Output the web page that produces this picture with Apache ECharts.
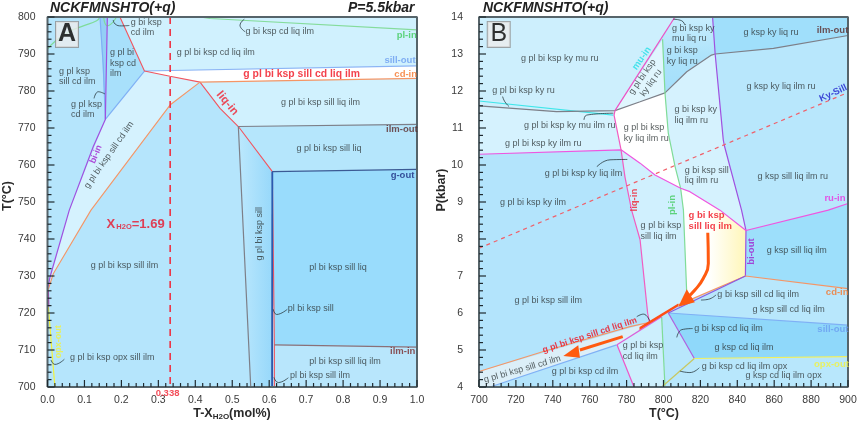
<!DOCTYPE html>
<html>
<head>
<meta charset="utf-8">
<style>html,body{margin:0;padding:0;background:#fff}#main{width:858px;height:422px}</style>
<script src="https://cdn.jsdelivr.net/npm/echarts@6/dist/echarts.min.js"></script>
</head>
<body>
<div id="main"></div>
<script>
// panel A, T-X section : [X, T]
var aRegions = {
  base: [[0,800],[1,800],[1,700],[0,700]],
  strip: [[0.142,800],[0.162,800],[0.1565,772.3]],
  cdIlm: [[0.162,800],[0.196,800],[0.2624,785.4],[0.1565,772.3]],
  cdLiq: [[0.196,800],[1,800],[1,786.8],[0.2624,785.4]],
  peak: [[0.2624,785.4],[1,786.8],[1,783.4],[0.4127,782.4],[0.3315,784]],
  biBand: [[0.2624,785.4],[0.3315,784],[0.4127,782.4],[0.3315,776.2],[0.1177,747.8],[0.016,730.7],[0.002,726.3],[0.007,729.8],[0.059,747.8],[0.1565,772.3]],
  sillLiqIlm: [[0.4127,782.4],[1,783.4],[1,771],[0.5165,770.4],[0.467,775.3]],
  sillLiq: [[0.5165,770.4],[1,771],[1,758.8],[0.6086,758.2]],
  gSill: [[0.5165,770.4],[0.6086,758.2],[0.608,700],[0.55,700]],
  noG: [[0.6086,758.2],[1,758.8],[1,710.8],[0.614,711.4]],
  noGIlm: [[0.614,711.4],[1,710.8],[1,700],[0.614,700]]
};
var aLines = {
  plIn1: [[0,791.3],[0.02,793.4],[0.06,796.1],[0.097,797.6],[0.133,799],[0.142,800]],
  plIn2: [[0.152,800],[0.162,797.6],[0.187,800]],
  plIn3: [[0.4127,800],[0.44,799.6],[1,796.5]],
  sillOut1: [[0.142,800],[0.151,786.7],[0.1565,772.3]],
  sillOut2: [[0.1565,772.3],[0.2624,785.4]],
  sillOut3: [[0.2624,785.4],[1,786.8]],
  biIn: [[0.162,800],[0.1565,772.3],[0.124,765],[0.059,747.8],[0.007,729.8],[0,726.3]],
  liqIn: [[0.196,800],[0.2624,785.4],[0.3315,784],[0.4127,782.4],[0.467,775.3],[0.5165,770.4],[0.6086,758.2],[0.614,711.4],[0.614,700]],
  cdIn: [[1,783.4],[0.4127,782.4],[0.3315,776.2],[0.1177,747.8],[0.016,730.7],[0.002,726.3]],
  ilmOut: [[0.55,700],[0.5165,770.4],[1,771]],
  gOut: [[0.608,700],[0.6086,758.2],[1,758.8]],
  ilmIn: [[0.614,711.4],[1,710.8]],
  opxOut: [[0.0023,721.7],[0.02,700]],
  low: [[0.0023,726],[0.0035,721.7]]
};
var aDashed = [[0.332,800],[0.332,700]];
var aLeaders = [
  [[0.178,799.2],[0.183,798.1],[0.2,797.6],[0.2215,797.7]],
  [[0.126,778],[0.1375,779.8],[0.1556,779.2]],
  [[0.5327,799.4],[0.5209,797.8],[0.5349,796]],
  [[0.0095,707.3],[0.02,706.1],[0.0456,707.5]],
  [[0.611,721],[0.6201,719.6],[0.649,721]],
  [[0.6128,702.6],[0.6246,701.2],[0.6518,702.5]]
];
var aFields = [
  [0.225,797.2,'g bi ksp\ncd ilm'],
  [0.169,787.5,'g pl bi\nksp cd\nilm'],
  [0.031,783.9,'g pl ksp\nsill cd ilm'],
  [0.0636,775,'g pl ksp\ncd ilm'],
  [0.35,790.4,'g pl bi ksp cd liq ilm'],
  [0.536,796.2,'g bi ksp cd liq ilm'],
  [0.632,776.8,'g pl bi ksp sill liq ilm'],
  [0.674,764.4,'g pl bi ksp sill liq'],
  [0.7086,732.4,'pl bi ksp sill liq'],
  [0.65,721.1,'pl bi ksp sill'],
  [0.7086,706.8,'pl bi ksp sill liq ilm'],
  [0.6563,703.1,'pl bi ksp sill ilm'],
  [0.1168,732.7,'g pl bi ksp sill ilm'],
  [0.0609,707.9,'g pl bi ksp opx sill ilm']
];
var aTilted = [
  [0.1664,762.7,'g pl bi ksp sill cd ilm'],
  [0.575,741.4,'g pl bi ksp sill'],
  [0.1313,762.9,'bi-in'],
  [0.4867,776.7,'liq-in'],
  [0.0293,712.2,'opx-out']
];
var aTiltAngles = [55, 90, 68, -50, 90];
var aPhaseNames = [
  [0.945,795.1,'pl-in'],
  [0.9118,788.2,'sill-out'],
  [0.9387,784.6,'cd-in'],
  [0.9161,769.5,'ilm-out'],
  [0.9287,757.1,'g-out'],
  [0.927,709.5,'ilm-in']
];
var aPeak = [0.53,784.6,'g pl bi ksp sill cd liq ilm'];
var aWater = [0.16,744];
var aWaterTick = [0.325,698.4,'0.338'];

// panel B, P-T section : [T, P]
var bRegions = {
  base: [[700,14],[900,14],[900,4],[700,4]],
  muRu: [[700,14],[806.2,14],[773.7,11.47],[742,11.44],[700,11.6]],
  ilmRu: [[700,11.6],[742,11.44],[773.7,11.47],[773.2,11.35],[777,10.41],[700,10.29]],
  plLiq: [[777,10.41],[787.3,10.05],[795.4,9.73],[809.3,9.37],[810.8,8.78],[812.6,6.53],[808,6.22],[792.5,5.72],[791.4,6],[787.3,7.98],[782.7,8.78],[779.1,9.68]],
  plLiqRu: [[773.7,11.47],[787.3,11.71],[800.8,11.95],[802.6,10.86],[806.3,9.95],[809.3,9.37],[795.4,9.73],[787.3,10.05],[777,10.41],[773.2,11.35]],
  wedge: [[773.7,11.47],[799.5,13.4],[800.8,11.95],[787.3,11.71]],
  gBiTop: [[799.5,13.4],[806.2,14],[826.6,14],[828,13],[826,12.97],[812.6,12.52],[800.8,11.95]],
  gBi: [[800.8,11.95],[812.6,12.52],[826,12.97],[828,13],[832.4,10.68],[833,10.52],[842.3,8.78],[844.7,8.23],[830.6,8.78],[814.3,9.28],[809.3,9.37],[806.3,9.95],[802.6,10.86]],
  kspTop: [[826.6,14],[900,14],[900,13.5],[859.6,13.15],[828,13]],
  ksp: [[828,13],[859.6,13.15],[900,13.5],[900,8.96],[889.3,8.78],[844.7,8.23],[842.3,8.78],[833,10.52],[832.4,10.68]],
  kspSill: [[844.7,8.23],[889.3,8.78],[900,8.96],[900,6.66],[844.4,7]],
  peak: [[809.3,9.37],[814.3,9.28],[830.6,8.78],[844.7,8.23],[844.4,7],[808,6.22],[812.6,6.53],[810.8,8.78]],
  cdLiq: [[802.6,6],[844.4,7],[900,6.66],[900,5.67]],
  gKsp: [[802.6,6],[900,5.67],[900,4.82],[816.7,4.77]],
  opx: [[816.7,4.77],[900,4.82],[900,4],[799,4]],
  gBiCd: [[799,5.9],[802.6,6],[816.7,4.77],[799,4]],
  gPlCd: [[774.8,5.14],[799,5.9],[800.8,4],[784,4]],
  band: [[700,4.42],[792.7,5.75],[774.8,5.14],[706,4],[700,4]]
};
var bLines = {
  muIn: [[700,11.73],[772.8,11.35]],
  ilmOut: [[700,11.6],[742,11.44],[773.7,11.47],[787.3,11.71],[800.8,11.95],[812.6,12.52],[826,12.97],[828,13],[859.6,13.15],[900,13.5]],
  muOut: [[773.7,11.47],[806.2,14]],
  plIn: [[799.5,13.4],[800.8,11.95],[802.6,10.86],[806.3,9.95],[809.3,9.37],[810.8,8.78],[812.6,6.53]],
  plIn2: [[799,5.9],[800.8,4]],
  biOut: [[826.6,14],[828,13],[832.4,10.68],[833,10.52],[842.3,8.78],[844.7,8.23],[844.4,7]],
  ruIn: [[700,10.29],[777,10.41],[787.3,10.05],[795.4,9.73],[809.3,9.37],[814.3,9.28],[830.6,8.78],[844.7,8.23],[889.3,8.78],[900,8.96]],
  liqIn: [[773.7,11.47],[773.2,11.35],[777,10.41],[779.1,9.68],[782.7,8.78],[787.3,7.98],[791.4,6],[792.5,5.72]],
  cdIn: [[700,4.42],[734.9,4.96],[781.8,5.63],[792.7,5.75],[808,6.22],[844.4,7],[900,6.66]],
  sillOut: [[706,4],[774.6,5.14]],
  sillOut2: [[802.6,6],[900,5.67]],
  liqOut: [[774.8,5.14],[799,5.9]],
  liqOut2: [[774.8,5.14],[784,4]],
  biLow: [[802.6,6],[844.4,7]],
  biLow2: [[802.6,6],[816.7,4.77]],
  biLow3: [[816.7,4.77],[799,4]],
  opxOut: [[816.7,4.77],[900,4.82]]
};
var bKySill = [[700,7.75],[900,11.96]];
var bLeaders = [
  [[712.8,11.85],[714,11.71],[716.3,11.58]],
  [[756.9,11.22],[758.4,11.35],[772.8,11.4]],
  [[763.8,9.95],[771,10.14],[780.4,10.15]],
  [[805.3,13.94],[809.8,13.9],[811.6,13.78]],
  [[820.3,6.35],[824.3,6.37],[828.5,6.49]],
  [[807.2,5.34],[809.9,5.55],[815.8,5.58]],
  [[808.9,4.43],[814.3,4.39],[819.4,4.52]],
  [[785.5,5.9],[789.1,5.97],[792.7,5.77]]
];
var bFields = [
  [722.8,12.88,'g pl bi ksp ky mu ru'],
  [707.2,12,'g pl bi ksp ky ru'],
  [724.4,11.07,'g pl bi ksp ky mu ilm ru'],
  [714.1,10.59,'g pl bi ksp ky ilm ru'],
  [735.6,9.77,'g pl bi ksp ky liq ilm'],
  [711.4,8.98,'g pl bi ksp ky ilm'],
  [778.4,10.87,'g pl bi ksp\nky liq ilm ru'],
  [804.6,13.55,'g bi ksp ky\nmu liq ru'],
  [801.7,12.95,'g bi ksp\nky liq ru'],
  [843.4,13.58,'g ksp ky liq ru'],
  [845,12.12,'g ksp ky liq ilm ru'],
  [806,11.35,'g bi ksp ky\nliq ilm ru'],
  [811.5,9.71,'g bi ksp sill\nliq ilm ru'],
  [851,9.7,'g ksp sill liq ilm ru'],
  [787.6,8.22,'g pl bi ksp\nsill liq ilm'],
  [855.9,7.68,'g ksp sill liq ilm'],
  [829.2,6.5,'g bi ksp sill cd liq ilm'],
  [848.3,6.09,'g ksp sill cd liq ilm'],
  [816.6,5.57,'g bi ksp cd liq ilm'],
  [827.6,5.08,'g ksp cd liq ilm'],
  [777.9,4.97,'g pl bi ksp\ncd liq ilm'],
  [820.7,4.55,'g bi ksp cd liq ilm opx'],
  [844.5,4.3,'g ksp cd liq ilm opx'],
  [719.2,6.34,'g pl bi ksp sill ilm'],
  [739.4,4.41,'g pl bi ksp cd ilm']
];
var bTilted = [
  [790.9,12.3,'g pl bi ksp\nky liq ru'],
  [788.2,12.88,'mu-in'],
  [892,11.94,'Ky-Sill'],
  [847.4,7.66,'bi-out'],
  [723.5,4.48,'g pl bi ksp sill cd ilm'],
  [760,5.4,'g pl bi ksp sill cd liq ilm'],
  [805,8.92,'pl-in'],
  [784,9.05,'liq-in']
];
var bTiltAngles = [55, 55, 25, 90, 16, 18, 90, 90];
var bPhaseNames = [
  [883,13.65,'ilm-out'],
  [887.2,9.09,'ru-in'],
  [888,6.55,'cd-in'],
  [883.4,5.57,'sill-out'],
  [881.6,4.61,'opx-out']
];
var bPeak = [813.6,8.48,'g bi ksp\nsill liq ilm'];
var bArrow1 = [[824,8.17],[824.3,7.34],[821.6,6.94],[817,6.62],[812.6,6.4]];
var bArrow1Head = [[808,6.17],[812.6,6.64],[817,6.29]];
var bArrow2 = [[777.9,5.36],[754.7,5]];
var bArrow2Head = [[745.7,4.84],[753.8,5.13],[754.7,4.79]];
var bSliver = [[808,6.26],[787,5.62],[787,5.54],[808,6.18]];

var xTicksA = {min:0, max:1, step:0.1};
var yTicksA = {min:700, max:800, step:10};
var xTicksB = {min:700, max:900, step:20};
var yTicksB = {min:4, max:14, step:1};

var font = '"Liberation Sans", Arial, sans-serif';
var ink = '#2d3436';

var aFills = {
  base: '#b5e5fc', strip: '#93cff6', cdIlm: '#a8e0fb', cdLiq: '#d0f1fe', peak: '#ffffff',
  biBand: '#d5f2fe', sillLiqIlm: '#d0f1fe', sillLiq: '#b5e6fc',
  gSill: new echarts.graphic.LinearGradient(0,0,1,0,[{offset:0,color:'#bce8fd'},{offset:1,color:'#97d8fa'}]),
  noG: '#99dcfc', noGIlm: '#b8e6fc'
};
var aStrokes = {
  plIn1:'#7fdc9a', plIn2:'#7fdc9a', plIn3:'#85dc9c', sillOut1:'#7fb0f5', sillOut2:'#7fb0f5', sillOut3:'#8bb4f5',
  biIn:'#a050e0', liqIn:'#f2555f', cdIn:'#f59565', ilmOut:'#7d7f88', gOut:'#3b5a94', ilmIn:'#8a7078',
  opxOut:'#f2f23c', low:'#c040c0'
};
var bFills = {
  base:'#b3e4fc', muRu:'#cdeffd', ilmRu:'#d5f2fe', plLiq:'#d0f0fe', plLiqRu:'#ffffff', wedge:'#e0f6fe',
  gBiTop: new echarts.graphic.LinearGradient(0,0,0,1,[{offset:0,color:'#c8eefe'},{offset:0.5,color:'#aee3fb'},{offset:1,color:'#a3dffb'}]),
  gBi:'#d5f2fe', kspTop:'#a0dffb', ksp:'#b8e7fc', kspSill:'#9ddffb',
  peak: new echarts.graphic.LinearGradient(0,0,1,0,[{offset:0,color:'#ffffff'},{offset:0.45,color:'#ffffff'},{offset:1,color:'#fff6b8'}]),
  cdLiq:'#b8e7fc', gKsp:'#8fd8fa', opx:'#b8e7fc', gBiCd:'#b8e7fc', gPlCd:'#cdeffd', band:'#dceff8'
};
var bStrokes = {
  muIn:'#3fe6ea', ilmOut:'#7d7f88', muOut:'#ef4fc4', plIn:'#80dc98', plIn2:'#80dc98', biOut:'#a050e0',
  ruIn:'#ef55e0', liqIn:'#f25cc0', cdIn:'#f59565', sillOut:'#7fb0f5', sillOut2:'#7fb0f5', liqOut:'#e15ad8',
  liqOut2:'#ef55c8', biLow:'#8a5ae0', biLow2:'#b060e0', biLow3:'#c8c860', opxOut:'#f0f060'
};
var nameColors = {
  'pl-in':'#3ecb5a', 'sill-out':'#6a9cf0', 'cd-in':'#f5752a', 'ilm-out':'#5a2a2a', 'g-out':'#1a2a80', 'ilm-in':'#7a2a2a',
  'bi-in':'#a020d0', 'liq-in':'#f02030', 'opx-out':'#f2f23c', 'mu-in':'#22dfe6', 'Ky-Sill':'#1a1acc', 'ru-in':'#ee30e0',
  'bi-out':'#a020d0'
};

function polygon(idx, pts, fill, z) {
  return {
    type: 'custom', xAxisIndex: idx, yAxisIndex: idx, z: z, silent: true, data: pts,
    renderItem: function (params, api) {
      if (params.dataIndex !== 0) return null;
      return {
        type: 'polygon',
        shape: { points: pts.map(function (p) { return api.coord(p); }) },
        style: { fill: fill }
      };
    }
  };
}
function line(idx, pts, color, width, z, extra) {
  var s = {
    type: 'line', xAxisIndex: idx, yAxisIndex: idx, z: z, silent: true, clip: false, data: pts,
    symbol: 'none', lineStyle: { color: color, width: width }
  };
  if (extra) {
    if (extra.dash) s.lineStyle.type = extra.dash;
    if (extra.smooth) s.smooth = 0.5;
    if (extra.zlevel) s.zlevel = extra.zlevel;
  }
  return s;
}
function textItem(row, opt) {
  return {
    value: [row[0], row[1]],
    label: Object.assign({
      show: true, position: 'inside', formatter: row[2], align: 'left', verticalAlign: 'middle',
      color: ink, fontFamily: font, fontSize: 9, lineHeight: 10.5
    }, opt || {})
  };
}
function textSeries(idx, items) {
  return {
    type: 'scatter', xAxisIndex: idx, yAxisIndex: idx, z: 7, zlevel: 2, silent: true, clip: false,
    symbolSize: 1, itemStyle: { color: 'transparent' }, data: items
  };
}
// inward major and minor ticks, placed through the axis scales
function tickMarks(idx, xt, yt) {
  return {
    type: 'custom', xAxisIndex: idx, yAxisIndex: idx, z: 8, zlevel: 2, silent: true, clip: false, data: [[xt.min, yt.min]],
    renderItem: function (params, api) {
      var kids = [];
      function add(x1, y1, x2, y2) {
        kids.push({ type: 'line', shape: { x1: x1, y1: y1, x2: x2, y2: y2 }, style: { stroke: '#1f2a30', lineWidth: 1.2, fill: null } });
      }
      var i, p;
      for (i = 0; i <= (xt.max - xt.min) / xt.step * 5 + 0.01; i++) {
        p = api.coord([xt.min + i * xt.step / 5, yt.min]);
        add(p[0], p[1], p[0], p[1] - (i % 5 === 0 ? 7 : 4));
      }
      for (i = 0; i <= (yt.max - yt.min) / yt.step * 5 + 0.01; i++) {
        p = api.coord([xt.min, yt.min + i * yt.step / 5]);
        add(p[0], p[1], p[0] + (i % 5 === 0 ? 7 : 4), p[1]);
      }
      return { type: 'group', children: kids };
    }
  };
}
function axisX(grid, t, fmt) {
  var a = {
    type: 'value', gridIndex: grid, min: t.min, max: t.max, interval: t.step, zlevel: 1,
    splitLine: { show: false },
    axisLine: { show: false, onZero: false },
    axisTick: { show: false },
    axisLabel: { color: '#3a3a3a', fontFamily: font, fontSize: 10.5, margin: 8 }
  };
  if (fmt) a.axisLabel.formatter = fmt;
  return a;
}
function axisY(grid, t) {
  return {
    type: 'value', gridIndex: grid, min: t.min, max: t.max, interval: t.step, zlevel: 1,
    splitLine: { show: false },
    axisLine: { show: false, onZero: false },
    axisTick: { show: false },
    axisLabel: { color: '#3a3a3a', fontFamily: font, fontSize: 10.5, margin: grid === 0 ? 12 : 16 }
  };
}

var series = [];

// panel A
Object.keys(aRegions).forEach(function (k) { series.push(polygon(0, aRegions[k], aFills[k], 1)); });
Object.keys(aLines).forEach(function (k) {
  var w = k === 'liqIn' || k === 'cdIn' ? 1.1 : 1.2;
  series.push(line(0, aLines[k], aStrokes[k], k === 'gOut' ? 1.3 : w, 3, { smooth: k === 'plIn1' || k === 'plIn2' }));
});
series.push(line(0, [[0.6086,758.2],[0.608,700]], '#2a5ab0', 1.6, 3));
series.push(line(0, aDashed, '#ee3344', 1.6, 4, { dash: [7, 5] }));
aLeaders.forEach(function (l) { series.push(line(0, l, '#2a3a40', 0.8, 4, { smooth: true })); });
series.push(line(0, [[0,700],[0,800],[1,800],[1,700],[0,700]], '#56646a', 2, 5, { zlevel: 2 }));
series.push(tickMarks(0, xTicksA, yTicksA));
series.push(textSeries(0, [].concat(
  aFields.map(function (r) { return textItem(r); }),
  aTilted.map(function (r, i) {
    var c = nameColors[r[2]];
    return textItem(r, { align: 'center', rotate: aTiltAngles[i], color: c || ink, fontWeight: c ? 'bold' : 'normal', fontSize: r[2] === 'liq-in' ? 11.5 : 9 });
  }),
  aPhaseNames.map(function (r) { return textItem(r, { color: nameColors[r[2]], fontWeight: 'bold', fontSize: 9.5 }); }),
  [textItem(aPeak, { color: '#f0101e', fontWeight: 'bold', fontSize: 10.4 }),
   textItem(aWaterTick, { align: 'center', color: '#f02030', fontWeight: 'bold', fontSize: 9.5 }),
   {
     value: aWater,
     label: {
       show: true, position: 'inside', align: 'left', verticalAlign: 'middle',
       formatter: '{a|X}{s|H2O}{a|=1.69}',
       rich: {
         a: { color: '#e8142a', fontFamily: font, fontWeight: 'bold', fontSize: 13 },
         s: { color: '#e8142a', fontFamily: font, fontWeight: 'bold', fontSize: 7.5, verticalAlign: 'bottom', padding: [4, 0, 0, 1] }
       }
     }
   },
   {
     value: [0.0528, 795.3],
     label: {
       show: true, position: 'inside', align: 'center', verticalAlign: 'middle', formatter: 'A',
       color: '#000', fontFamily: font, fontWeight: 'bold', fontSize: 25, width: 22, height: 25, lineHeight: 25,
       backgroundColor: '#ececec', borderColor: '#8f8f8f', borderWidth: 1
     }
   }]
)));

// panel B
Object.keys(bRegions).forEach(function (k) { series.push(polygon(1, bRegions[k], bFills[k], 1)); });
Object.keys(bLines).forEach(function (k) { series.push(line(1, bLines[k], bStrokes[k], 1.2, 3)); });
series.push(line(1, bKySill, '#f0606a', 1.2, 4, { dash: [4, 4] }));
bLeaders.forEach(function (l) { series.push(line(1, l, '#2a3a40', 0.8, 4, { smooth: true })); });
series.push(polygon(1, bSliver, '#ff4d14', 5));
series.push(line(1, bArrow1, '#ff5a10', 3, 5, { smooth: true }));
series.push(polygon(1, bArrow1Head, '#ff5a10', 5));
series.push(line(1, bArrow2, '#ff5a10', 3, 5));
series.push(polygon(1, bArrow2Head, '#ff5a10', 5));
series.push(line(1, [[700,4],[700,14],[900,14],[900,4],[700,4]], '#56646a', 2, 5, { zlevel: 2 }));
series.push(tickMarks(1, xTicksB, yTicksB));
series.push(textSeries(1, [].concat(
  bFields.map(function (r) { return textItem(r); }),
  bTilted.map(function (r, i) {
    var c = nameColors[r[2]];
    var peak = r[2].indexOf('liq ilm') > 0 && bTiltAngles[i] === 18;
    return textItem(r, {
      align: 'center', rotate: bTiltAngles[i],
      color: peak ? '#f0101e' : (c || ink), fontWeight: peak || c ? 'bold' : 'normal',
      fontSize: peak ? 8.8 : (c ? 9.5 : 9)
    });
  }),
  bPhaseNames.map(function (r) { return textItem(r, { color: nameColors[r[2]], fontWeight: 'bold', fontSize: 9.5 }); }),
  [textItem(bPeak, { color: '#f0101e', fontWeight: 'bold', fontSize: 9.5, lineHeight: 11 }),
   {
     value: [710.7, 13.53],
     label: {
       show: true, position: 'inside', align: 'center', verticalAlign: 'middle', formatter: 'B',
       color: '#000', fontFamily: font, fontSize: 25, width: 22, height: 25, lineHeight: 25,
       backgroundColor: '#ececec', borderColor: '#8f8f8f', borderWidth: 1
     }
   }]
)));

var chart = echarts.init(document.getElementById('main'));
chart.setOption({
  animation: false,
  backgroundColor: '#fff',
  grid: [
    { left: 47.5, top: 17, width: 369.5, height: 370, outerBoundsMode: 'none' },
    { left: 479, top: 17, width: 369, height: 370, outerBoundsMode: 'none' }
  ],
  xAxis: [
    axisX(0, xTicksA, function (v) { return v.toFixed(1); }),
    axisX(1, xTicksB)
  ],
  yAxis: [axisY(0, yTicksA), axisY(1, yTicksB)],
  graphic: [
    { type: 'text', left: 50, top: 1, style: { text: 'NCKFMNSHTO(+q)', fill: '#222', font: 'italic bold 14px ' + font } },
    { type: 'text', left: 348, top: 1, style: { text: 'P=5.5kbar', fill: '#222', font: 'italic bold 14px ' + font } },
    { type: 'text', left: 483, top: 1, style: { text: 'NCKFMNSHTO(+q)', fill: '#222', font: 'italic bold 14px ' + font } },
    { type: 'text', x: 8, y: 196, rotation: Math.PI / 2, style: { text: 'T(°C)', fill: '#2a2a2a', align: 'center', verticalAlign: 'middle', font: 'bold 12.5px ' + font } },
    { type: 'text', x: 442, y: 190, rotation: Math.PI / 2, style: { text: 'P(kbar)', fill: '#2a2a2a', align: 'center', verticalAlign: 'middle', font: 'bold 12.5px ' + font } },
    { type: 'text', x: 664, y: 414, style: { text: 'T(°C)', fill: '#2a2a2a', align: 'center', verticalAlign: 'middle', font: 'bold 12.5px ' + font } },
    {
      type: 'text', x: 232, y: 414,
      style: {
        text: '{a|T-X}{s|H2O}{a|(mol%)}', align: 'center', verticalAlign: 'middle',
        rich: {
          a: { fill: '#2a2a2a', font: 'bold 12.5px ' + font },
          s: { fill: '#2a2a2a', font: 'bold 8px ' + font, verticalAlign: 'bottom', padding: [4, 0, 0, 0] }
        }
      }
    }
  ],
  series: series
});
</script>
</body>
</html>
